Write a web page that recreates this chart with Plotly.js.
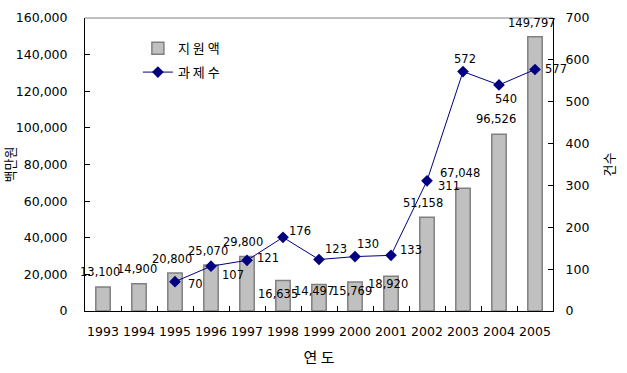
<!DOCTYPE html>
<html>
<head>
<meta charset="utf-8">
<script src="https://cdn.plot.ly/plotly-3.0.1.min.js"></script>
<style>html,body{margin:0;padding:0;background:#fff;}#chart{width:627px;height:373px;}</style>
</head>
<body>
<div id="chart"></div>
<script>
// ---- data ----
var years = ['1993','1994','1995','1996','1997','1998','1999','2000','2001','2002','2003','2004','2005'];
var fundAmount = [13100, 14900, 20800, 25070, 29800, 16635, 14497, 15769, 18920, 51158, 67048, 96526, 149797];
var projectYears = ['1995','1996','1997','1998','1999','2000','2001','2002','2003','2004','2005'];
var projectCount = [70, 107, 121, 176, 123, 130, 133, 311, 572, 540, 577];
var fundName = '지 원 액';
var countName = '과 제 수';

// label placement (pixel offsets relative to the mark)
var barLabelOffsets = [[-3,15],[-2,15],[-3,14],[-3,14],[-4,14],[-5,-13],[-5,-7],[-3,-9],[-3,-8],[-4,14],[-3,15],[-3,15],[-3,14]];
var lineLabelOffsets = [[20,-2],[22,-9],[21,2],[17,6],[17,11],[13,13],[20,5],[22,-5],[2,13],[7,-14],[21,0]];

var fmt = function(v){ return String(v).replace(/\B(?=(\d{3})+(?!\d))/g, ','); };
var numFont = {family:'DejaVu Sans, Arial, sans-serif', size:11.5, color:'#000'};
var annotations = [];
years.forEach(function(y,i){
  annotations.push({x:i, y:fundAmount[i], xref:'x', yref:'y', text:fmt(fundAmount[i]), showarrow:false,
    xshift:barLabelOffsets[i][0], yshift:barLabelOffsets[i][1], font:numFont});
});
projectYears.forEach(function(y,i){
  annotations.push({x:years.indexOf(y), y:projectCount[i], xref:'x', yref:'y2', text:String(projectCount[i]), showarrow:false,
    xshift:lineLabelOffsets[i][0], yshift:lineLabelOffsets[i][1], font:numFont});
});

var traces = [
  {type:'bar', x:years, y:fundAmount, name:fundName, width:0.4, legendgroup:'a',
   marker:{color:'#C0C0C0', line:{color:'#808080', width:1.5}}, hoverinfo:'none'},
  {type:'scatter', mode:'lines+markers', x:projectYears, y:projectCount, yaxis:'y2', name:countName, legendgroup:'b',
   line:{color:'#000080', width:1}, marker:{symbol:'diamond', size:9, color:'#000080'}, hoverinfo:'none'}
];

var tickFont = {family:'DejaVu Sans, Arial, sans-serif', size:12.5, color:'#000'};
var krFont = {family:'Noto Sans CJK KR, sans-serif', size:13, color:'#000'};

var layout = {
  width:627, height:373,
  margin:{l:85, r:74, t:18, b:62},
  paper_bgcolor:'#fff', plot_bgcolor:'#fff',
  showlegend:true,
  legend:{x:0.113, y:0.948, xanchor:'left', yanchor:'top', bgcolor:'rgba(0,0,0,0)', font:krFont, itemwidth:30, tracegroupgap:4},
  xaxis:{type:'category', categoryorder:'array', categoryarray:years, tickson:'boundaries', ticks:'inside', ticklen:5,
    tickcolor:'#000', showline:true, linecolor:'#000', linewidth:1, showgrid:false, zeroline:false, tickangle:0,
    tickfont:tickFont, range:[-0.5, 12.5], ticklabelstandoff:9,
    title:{text:'연 도', font:{family:'Noto Sans CJK KR, sans-serif', size:15, color:'#000'}, standoff:14}},
  yaxis:{range:[0,160000], dtick:20000, tickformat:',d', ticks:'inside', ticklen:5, tickcolor:'#000',
    showline:true, linecolor:'#000', linewidth:1, showgrid:false, zeroline:false, tickfont:tickFont, ticklabelstandoff:14,
    title:{text:'백만원', font:krFont, standoff:4}},
  yaxis2:{overlaying:'y', side:'right', range:[0,700], dtick:100, ticks:'inside', ticklen:5, tickcolor:'#000',
    showline:true, linecolor:'#000', linewidth:1, showgrid:false, zeroline:false, tickfont:tickFont, ticklabelstandoff:9,
    title:{text:'건수', font:krFont, standoff:16}},
  shapes:[{type:'line', xref:'paper', yref:'paper', x0:0, x1:1, y0:1, y1:1, line:{color:'#808080', width:1}}],
  annotations:annotations
};

Plotly.newPlot('chart', traces, layout, {displayModeBar:false, staticPlot:true});
</script>
</body>
</html>
